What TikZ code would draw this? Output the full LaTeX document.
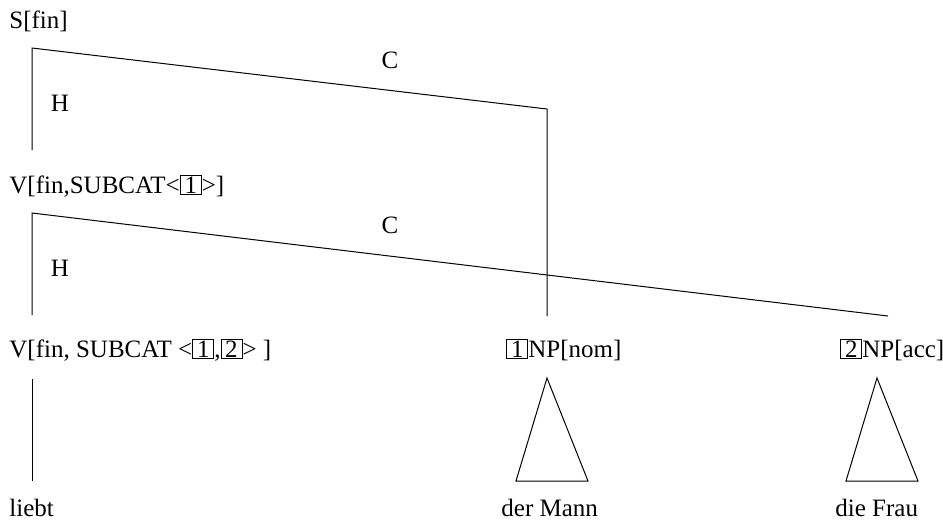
\documentclass[tikz,border=0pt]{standalone}
\usepackage{fontspec}
\setmainfont{Liberation Serif}
\newcommand{\nbox}[1]{{\setlength{\fboxsep}{0.3pt}\setlength{\fboxrule}{0.5pt}\fbox{\makebox[9.4pt]{#1}}}}
\begin{document}
\begin{tikzpicture}[x=0.5pt,y=-0.5pt,
  lbl/.style={anchor=base west,inner sep=0pt,font=\fontsize{12.5}{14}\selectfont},
  tag/.style={anchor=base,inner sep=0pt,font=\fontsize{12.5}{14}\selectfont},
  edge/.style={line width=0.5pt,line join=miter}]
\useasboundingbox (0,0) rectangle (943,527);
% category labels
\node[lbl] (s) at (9,28) {S[fin]};
\node[lbl] (v1) at (9,193) {V[fin,SUBCAT<\nbox{1}>]};
\node[lbl] (v2) at (9,357) {V[fin, SUBCAT <\nbox{1},\nbox{2}> ]};
\node[lbl] (np1) at (506,357) {\nbox{1}NP[nom]};
\node[lbl] (np2) at (840,357) {\nbox{2}NP[acc]};
\node[lbl] (liebt) at (9,516) {liebt};
\node[lbl] (mann) at (501,516) {der Mann};
\node[lbl] (frau) at (835,516) {die Frau};
% branch labels
\node[tag] (h1) at (60,111) {H};
\node[tag] (c1) at (390,68) {C};
\node[tag] (h2) at (60,276) {H};
\node[tag] (c2) at (390,233) {C};
% branch points
\coordinate (a1) at (32,48);
\coordinate (a2) at (32,150);
\coordinate (a3) at (547,109);
\coordinate (a4) at (547,316);
\coordinate (b1) at (32,213);
\coordinate (b2) at (32,315);
\coordinate (b3) at (888,316);
\coordinate (l1) at (32,379);
\coordinate (l2) at (32,481);
\coordinate (t1) at (547,378);
\coordinate (t1l) at (516,481);
\coordinate (t1r) at (588,481);
\coordinate (t2) at (877,378);
\coordinate (t2l) at (846,481);
\coordinate (t2r) at (918,481);
% connectors
\draw[edge] (a2) -- (a1) -- (a3) -- (a4);
\draw[edge] (b2) -- (b1) -- (b3);
\draw[edge] (l1) -- (l2);
\draw[edge] (t1) -- (t1l) -- (t1r) -- cycle;
\draw[edge] (t2) -- (t2l) -- (t2r) -- cycle;
\end{tikzpicture}
\end{document}
